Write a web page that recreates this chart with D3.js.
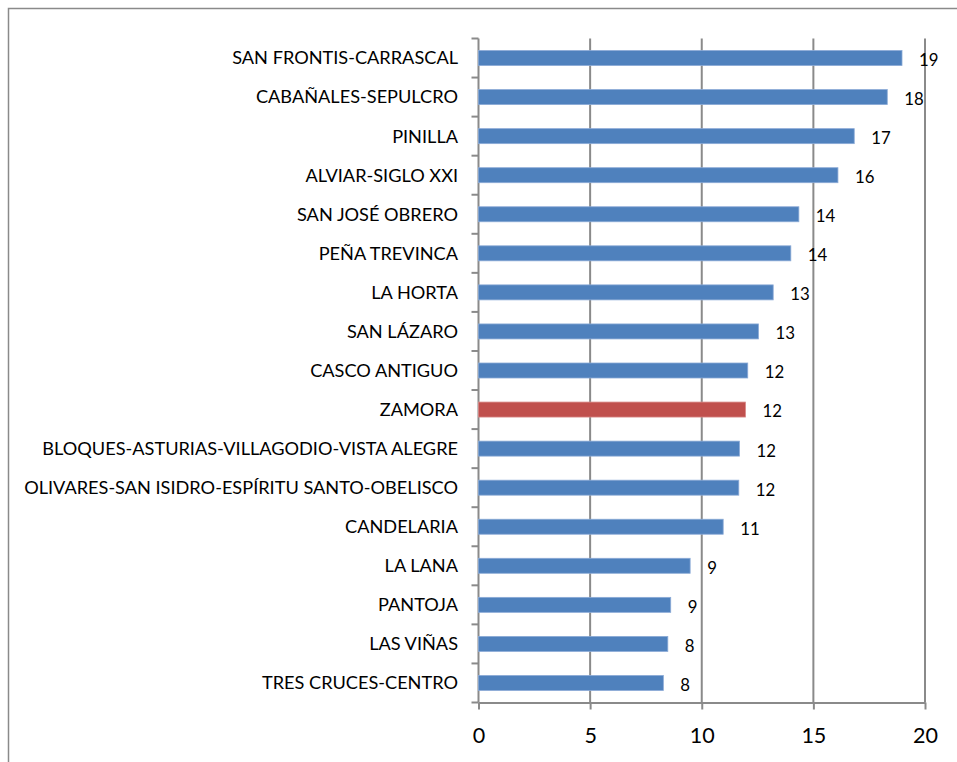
<!DOCTYPE html>
<html><head><meta charset="utf-8">
<script src="https://cdn.jsdelivr.net/npm/d3@7"></script>
<style>html,body{margin:0;padding:0;background:#fff;}svg{display:block;}</style>
</head><body>
<svg id="chart" width="957" height="762"></svg>
<script>
const categories = [
  "SAN FRONTIS-CARRASCAL","CABAÑALES-SEPULCRO","PINILLA","ALVIAR-SIGLO XXI",
  "SAN JOSÉ OBRERO","PEÑA TREVINCA","LA HORTA","SAN LÁZARO","CASCO ANTIGUO",
  "ZAMORA","BLOQUES-ASTURIAS-VILLAGODIO-VISTA ALEGRE",
  "OLIVARES-SAN ISIDRO-ESPÍRITU SANTO-OBELISCO","CANDELARIA","LA LANA",
  "PANTOJA","LAS VIÑAS","TRES CRUCES-CENTRO"
];
const values = [18.97,18.31,16.83,16.10,14.35,13.99,13.20,12.54,12.06,11.96,11.69,11.66,10.96,9.48,8.61,8.48,8.28];
const highlight = ["ZAMORA"];
const xTicks = [0,5,10,15,20];

(function(){
const FONT = "Lato, 'Open Sans', sans-serif";
const WEIGHT = 400;
const svg = d3.select("#chart");
svg.append("rect").attr("width",957).attr("height",762).attr("fill","#fff");

// outer frame (left + top only visible)
svg.append("path").attr("d","M8.5,762 V8.5 H957").attr("fill","none")
  .attr("stroke","#8a8a8a").attr("stroke-width",1.5);

const pL = 478.5, pR = 925, pT = 38.5, pB = 702.5;
const x = d3.scaleLinear().domain([0,20]).range([pL,pR]);
const y = d3.scaleBand().domain(categories).range([pT,pB])
  .paddingInner(0.616).paddingOuter(0.308);

function fitSize(text, target){
  const t = svg.append("text").attr("font-family",FONT).attr("font-weight",WEIGHT)
    .attr("font-size",100).text(text);
  const w = t.node().getComputedTextLength(); t.remove();
  return 100*target/w;
}
const catSize = fitSize("OLIVARES-SAN ISIDRO-ESPÍRITU SANTO-OBELISCO", 434);
const tickSize = fitSize("20", 25);
const lblSize = fitSize("19", 19.5);

// gridlines
svg.append("g").selectAll("line").data(xTicks.slice(1)).join("line")
  .attr("x1",d=>x(d)).attr("x2",d=>x(d)).attr("y1",pT).attr("y2",pB)
  .attr("stroke","#8a8a8a").attr("stroke-width",2);

// x axis
const xAxis = svg.append("g").attr("transform",`translate(0,${pB})`)
  .call(d3.axisBottom(x).tickValues(xTicks).tickSize(7).tickPadding(14).tickSizeOuter(0));
xAxis.select(".domain").attr("stroke","#8a8a8a").attr("stroke-width",2);
xAxis.selectAll(".tick line").attr("stroke","#8a8a8a").attr("stroke-width",2);
xAxis.selectAll(".tick text").attr("font-family",FONT).attr("font-weight",WEIGHT)
  .attr("font-size",tickSize).attr("fill","#000").attr("dy","0.92em");

// y axis line and ticks at band boundaries
svg.append("line").attr("x1",pL).attr("x2",pL).attr("y1",pT).attr("y2",pB)
  .attr("stroke","#8a8a8a").attr("stroke-width",2);
const step = y.step();
svg.append("g").selectAll("line").data(d3.range(categories.length+1)).join("line")
  .attr("x1",pL-7).attr("x2",pL).attr("y1",i=>pT+i*step).attr("y2",i=>pT+i*step)
  .attr("stroke","#8a8a8a").attr("stroke-width",2);

// category labels
svg.append("g").selectAll("text").data(categories).join("text")
  .attr("x",458).attr("y",d=>y(d)+y.bandwidth()/2).attr("dy","0.35em")
  .attr("text-anchor","end").attr("font-family",FONT).attr("font-weight",WEIGHT)
  .attr("font-size",catSize).attr("fill","#000").text(d=>d);

// bars
svg.append("g").selectAll("rect").data(categories).join("rect")
  .attr("x",x(0)).attr("y",d=>y(d)).attr("height",y.bandwidth())
  .attr("width",(d,i)=>x(values[i])-x(0))
  .attr("fill",d=>highlight.includes(d)?"#C0504D":"#4F81BD")
  .attr("stroke",d=>highlight.includes(d)?"#D98B89":"#8BAAD6").attr("stroke-width",0.8);

// data labels
svg.append("g").selectAll("text").data(categories).join("text")
  .attr("x",(d,i)=>x(values[i])+17).attr("y",d=>y(d)+y.bandwidth()/2+2).attr("dy","0.35em")
  .attr("font-family",FONT).attr("font-weight",WEIGHT).attr("font-size",lblSize).attr("fill","#000")
  .text((d,i)=>Math.round(values[i]));
})();
</script>
</body></html>
